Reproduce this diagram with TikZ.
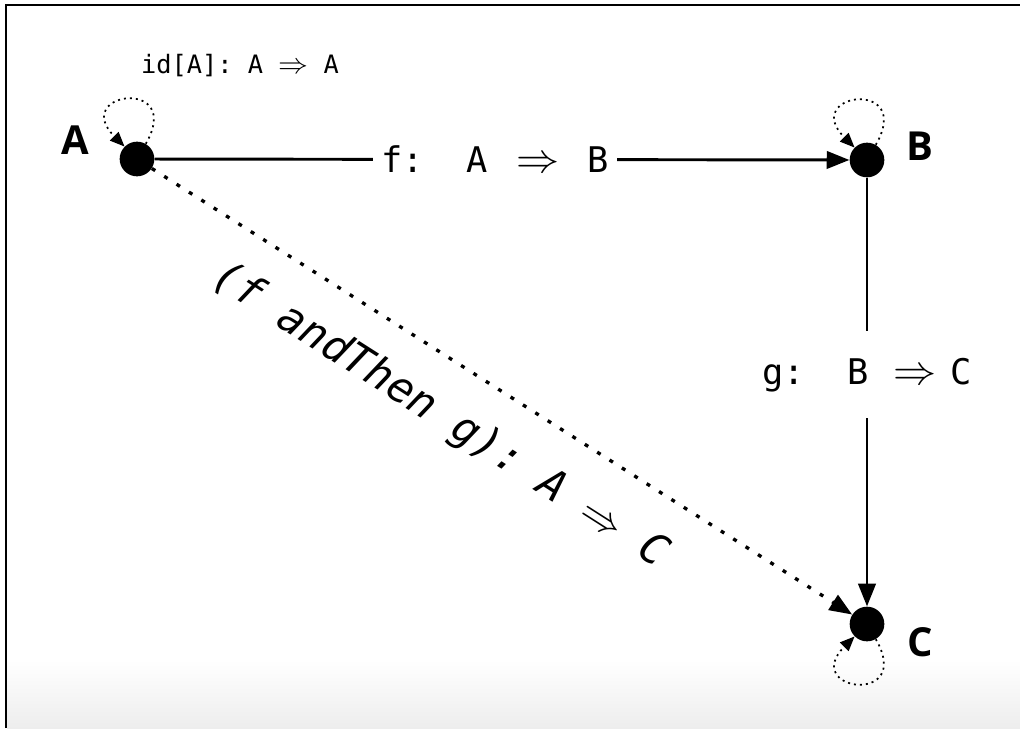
\documentclass[tikz,border=0pt]{standalone}
\usepackage{fontspec}
\usepackage{graphicx}
\setmainfont{Open Sans}
\newfontfamily\codefont{DejaVu Sans Mono}
\usetikzlibrary{arrows.meta,calc}
\newcommand{\imp}{\scalebox{1.3}[1.25]{\(\Rightarrow\)}}
\begin{document}
\begin{tikzpicture}[x=0.75pt,y=-0.75pt,
  dotnode/.style={circle,fill=black,minimum size=26pt,inner sep=0pt},
  vlabel/.style={font=\fontsize{30}{32}\selectfont\bfseries},
  code/.style={font=\codefont\fontsize{26.5}{30}\selectfont},
  smallcode/.style={font=\codefont\fontsize{19}{22}\selectfont},
  diagcode/.style={font=\codefont\itshape\fontsize{32}{36}\selectfont},
  mainarrow/.style={line width=2.2pt,-{Triangle[length=17pt,width=13pt]}},
  comparrow/.style={line width=2.5pt,dash pattern=on 3pt off 8pt,-{Triangle[length=17pt,width=13pt]}},
  idloop/.style={line width=1.3pt,dash pattern=on 1.5pt off 3pt,-{Triangle[length=11pt,width=9pt]},min distance=58pt}]
\useasboundingbox (0,0) rectangle (1020,728);
\shade[top color=white,bottom color=black!7] (7,660) rectangle (1020,728);
\draw[line width=1.5pt] (6,728) -- (6,5) -- (1020,5);

\node[dotnode] (A) at (137,159) {};
\node[dotnode] (B) at (867,160) {};
\node[dotnode] (C) at (867,624) {};
\node[vlabel] (la) at (75,140) {A};
\node[vlabel] (lb) at (920,146) {B};
\node[vlabel] (lc) at (920,642) {C};
\node[smallcode] (lid) at (240,66) {id[A]: A \imp{} A};

\draw[mainarrow] (A) -- node[code,fill=white,inner xsep=6pt,pos=0.49] (fl) {f:~~A\hspace{0.8em}\imp\hspace{0.8em}B} (B);
\draw[mainarrow] (B) -- node[code,fill=white,inner xsep=2pt,inner ysep=20pt,pos=0.46] (gl) {g:~~B\hspace{0.7em}\imp\hspace{0.4em}C} (C);
\draw[comparrow] (A) -- (C);
\node[diagcode,rotate=-32.55] (cl) at (440,416) {(f~andThen~g):~A~\imp~C};

\draw[idloop] (A) to[out=60,in=135] (A);
\draw[idloop] (B) to[out=60,in=135] (B);
\draw[idloop] (C) to[out=-60,in=-135] (C);
\end{tikzpicture}
\end{document}
